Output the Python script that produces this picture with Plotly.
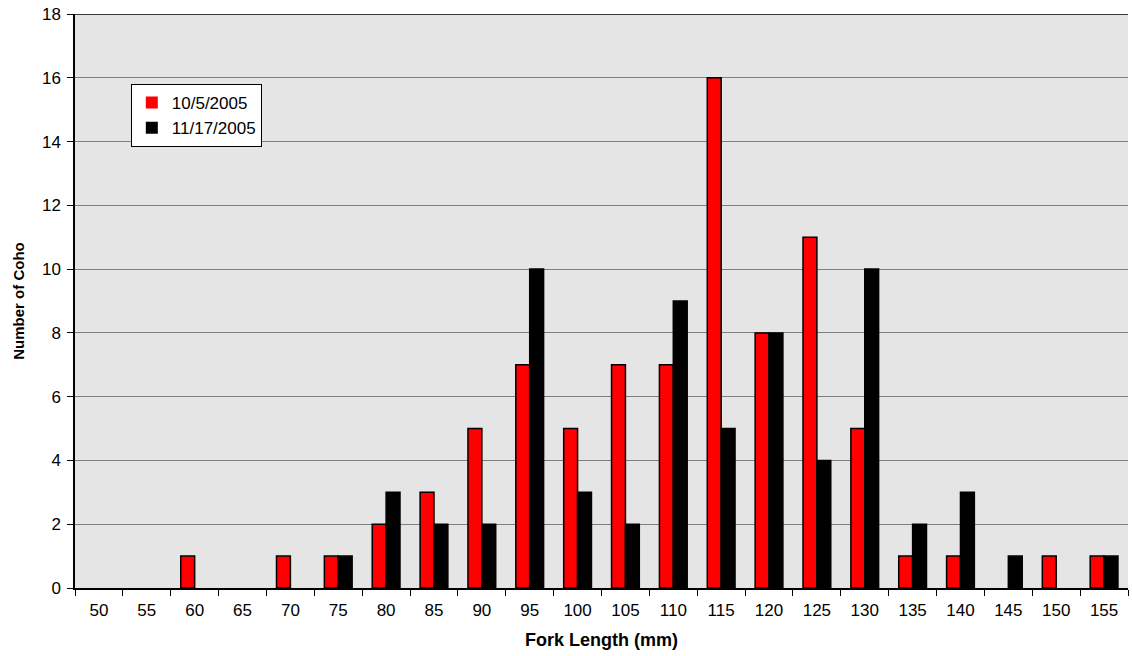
import plotly.graph_objects as go

categories = [str(v) for v in range(50, 160, 5)]
oct_counts = [0, 0, 1, 0, 1, 1, 2, 3, 5, 7, 5, 7, 7, 16, 8, 11, 5, 1, 1, 0, 1, 1]
nov_counts = [0, 0, 0, 0, 0, 1, 3, 2, 2, 10, 3, 2, 9, 5, 8, 4, 10, 2, 3, 1, 0, 1]
y_ticks = list(range(0, 20, 2))

font = "Liberation Sans, Arial, sans-serif"


def outline(values):
    # no visible outline for empty bins
    return [1.5 if v > 0 else 0 for v in values]


fig = go.Figure()
fig.add_trace(go.Bar(x=categories, y=oct_counts, name="10/5/2005",
                     marker=dict(color="#FF0000",
                                 line=dict(color="black", width=outline(oct_counts)))))
fig.add_trace(go.Bar(x=categories, y=nov_counts, name="11/17/2005",
                     marker=dict(color="#000000",
                                 line=dict(color="black", width=outline(nov_counts)))))

fig.update_layout(
    width=1132, height=656,
    margin=dict(l=75, r=4, t=14, b=68),
    paper_bgcolor="white", plot_bgcolor="#E5E5E5",
    barmode="group", bargap=0.42, bargroupgap=0,
    font=dict(family=font, size=17, color="black"),
    showlegend=True,
    legend=dict(x=0.053, y=0.878, xanchor="left", yanchor="top",
                bgcolor="white", bordercolor="black", borderwidth=1,
                font=dict(size=17), itemwidth=30, tracegroupgap=0),
    xaxis=dict(type="category", tickson="boundaries", ticks="outside", ticklen=6,
               tickcolor="black", showline=True, linecolor="black", linewidth=1.5,
               showgrid=False, tickfont=dict(size=17), ticklabelstandoff=6,
               title=dict(text="<b>Fork Length (mm)</b>", font=dict(size=18), standoff=14)),
    yaxis=dict(range=[0, 18], tickvals=y_ticks, ticks="outside", ticklen=6,
               tickcolor="black", showline=True, linecolor="black", linewidth=1.5,
               showgrid=True, gridcolor="#7F7F7F", gridwidth=1.3, zeroline=False,
               tickfont=dict(size=17), ticklabelstandoff=3,
               title=dict(text="<b>Number of Coho</b>", font=dict(size=15), standoff=14)),
    shapes=[dict(type="line", xref="paper", yref="y", x0=0, x1=1, y0=18, y1=18,
                 line=dict(color="black", width=1.5))],
)

fig.write_html("out.html")
